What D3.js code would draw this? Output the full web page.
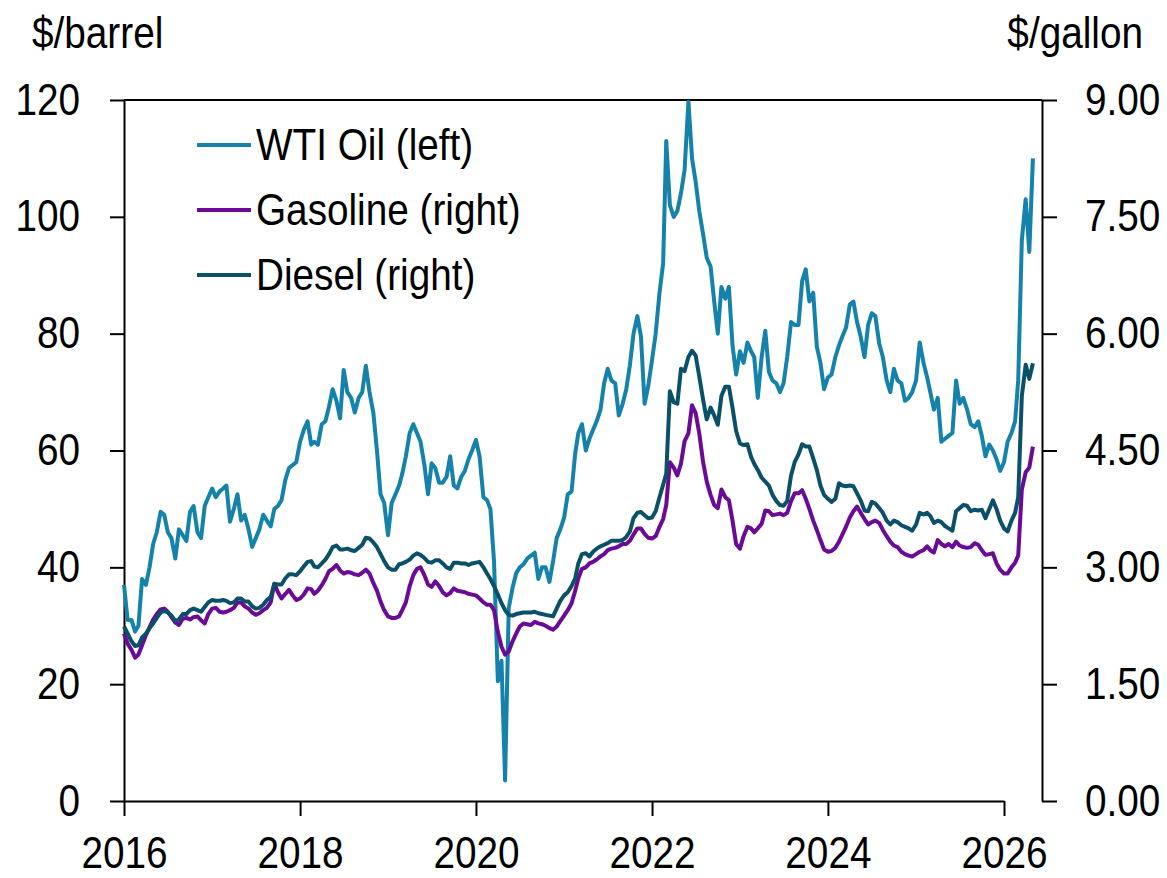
<!DOCTYPE html>
<html>
<head>
<meta charset="utf-8">
<script src="https://cdn.jsdelivr.net/npm/d3@7"></script>
<style>
  body { margin: 0; background: #fff; }
  text { font-family: "Liberation Sans", Arial, sans-serif; fill: #000; }
</style>
</head>
<body>
<div id="chart-area"></div>
<script>
// semi-monthly observations, first one 1 Jan 2016, then 16 Jan, 1 Feb, ...
const START = { YEAR: 2016, MONTH: 0 }

// WTI oil, $/barrel (left axis)
const wti = [
  37, 31, 31, 29, 30, 38, 37, 40, 44, 46, 49.5, 49, 46, 45, 41.5, 46.5, 45.5, 44.5, 49.5, 50.5, 46, 45, 50.5, 52,
  53.5, 52, 53, 53.5, 54, 47.8, 50, 52.5, 48, 49, 46.5, 43.5, 45, 46.5, 49, 48, 47, 50, 50.5, 51.5, 55, 57, 57.5, 58,
  61.5, 63.5, 65, 61, 61.5, 61, 64.5, 65, 67.5, 70.5, 68.5, 65.5, 73.8, 70, 69, 66.5, 69, 70, 74.5, 70, 66.5, 60, 52.5, 51,
  45.5, 51, 52.5, 54, 56, 59, 63, 64.5, 63, 61.5, 57.5, 52.5, 57.8, 57, 54.5, 54.5, 55.5, 59, 54, 53.5, 55.5, 56.5, 58.5, 60,
  61.8, 59, 52, 51.5, 50, 41, 20.5, 24, 3.5, 33, 36.5, 39, 40, 40.5, 41.5, 42, 42.5, 38, 40, 40, 37.5, 41, 45, 46.5,
  48.5, 52.5, 53, 59.5, 63, 64.5, 60, 62, 63.5, 65, 67, 71.5, 74, 72, 71.5, 66, 68, 70.5, 74.6, 80, 83, 79.5, 68, 71,
  75.5, 80, 87, 92, 113, 102, 100, 101, 104, 108, 119.7, 110, 106, 101, 97, 93, 91.5, 85.5, 80, 88, 86, 88, 78, 73,
  77, 75, 78.5, 77, 76, 69, 76, 80.5, 73.5, 72, 71.5, 70, 71.5, 76, 82, 81.5, 81.5, 89, 91, 85.5, 87, 77.8, 75, 70.5,
  72.5, 73, 76, 78, 79.5, 81, 85, 85.5, 82, 79.5, 76, 81.5, 83.5, 83, 78.3, 76, 72, 70, 74, 72, 71.5, 68.5, 69, 70,
  72, 78.5, 75, 72.5, 70, 67, 69, 61.5, 62, 62.5, 63, 72, 68, 69, 67, 64.5, 64, 65, 62.5, 59, 61, 60, 58.5, 56.5,
  58, 61.5, 63, 65, 72, 96, 103, 94, 110
]

// retail gasoline, $/gallon (right axis)
const gasoline = [
  2.15, 2.02, 1.94, 1.84, 1.88, 2.0, 2.13, 2.23, 2.33, 2.4, 2.46, 2.47, 2.43, 2.36, 2.29, 2.26, 2.34, 2.35, 2.33, 2.36, 2.37, 2.32, 2.28, 2.4,
  2.47, 2.48, 2.43, 2.42, 2.43, 2.45, 2.48, 2.55, 2.55, 2.5, 2.47, 2.42, 2.39, 2.41, 2.45, 2.48, 2.55, 2.79, 2.68, 2.6, 2.66, 2.71, 2.64, 2.58,
  2.6, 2.65, 2.73, 2.72, 2.66, 2.7, 2.77, 2.85, 2.95, 2.98, 3.03, 2.96, 2.92, 2.94, 2.93, 2.91, 2.9, 2.93, 2.97, 2.92, 2.8, 2.7, 2.56, 2.45,
  2.37, 2.35, 2.35, 2.37, 2.45, 2.55, 2.76, 2.9, 2.98, 3.0, 2.9, 2.78, 2.75, 2.82, 2.76, 2.68, 2.64, 2.67, 2.73, 2.7, 2.69, 2.68, 2.66, 2.65,
  2.64, 2.6, 2.55, 2.52, 2.52, 2.45, 2.17, 1.98, 1.88, 1.92, 2.05, 2.15, 2.24, 2.28, 2.27, 2.26, 2.3, 2.28, 2.27, 2.25, 2.22, 2.2, 2.24, 2.31,
  2.38, 2.45, 2.54, 2.7, 2.86, 2.98, 3.0, 3.05, 3.07, 3.1, 3.14, 3.17, 3.22, 3.24, 3.25, 3.27, 3.3, 3.3, 3.34, 3.42, 3.5, 3.5, 3.43, 3.38,
  3.37, 3.4, 3.52, 3.62, 3.8, 4.35, 4.28, 4.18, 4.33, 4.62, 4.72, 5.08, 4.98, 4.72, 4.35, 4.1, 3.93, 3.8, 3.76, 4.0, 3.9, 3.86, 3.6, 3.3,
  3.24, 3.4, 3.52, 3.5, 3.45, 3.5, 3.56, 3.73, 3.72, 3.67, 3.68, 3.69, 3.67, 3.7, 3.85, 3.95, 3.95, 3.99, 3.88, 3.75, 3.6, 3.48, 3.35, 3.23,
  3.2, 3.21, 3.25, 3.33, 3.42, 3.52, 3.64, 3.72, 3.78, 3.7, 3.62, 3.55, 3.58, 3.6, 3.57, 3.48, 3.4, 3.33, 3.28, 3.26, 3.2, 3.17, 3.15, 3.14,
  3.17, 3.2, 3.22, 3.27, 3.22, 3.19, 3.35, 3.3, 3.27, 3.3, 3.26, 3.33, 3.28, 3.26, 3.25, 3.26, 3.31, 3.29, 3.22, 3.16, 3.17, 3.18, 3.05, 2.97,
  2.92, 2.92, 3.0, 3.06, 3.15, 4.0, 4.22, 4.28, 4.55
]

// retail diesel, $/gallon (right axis)
const diesel = [
  2.24, 2.15, 2.05, 1.99, 2.0, 2.1, 2.15, 2.22, 2.28, 2.35, 2.42, 2.44, 2.42, 2.38, 2.31, 2.33, 2.4, 2.4, 2.45, 2.47, 2.45, 2.43, 2.49, 2.55,
  2.58, 2.57, 2.57, 2.58, 2.57, 2.54, 2.55, 2.6, 2.6, 2.56, 2.56, 2.5, 2.47, 2.48, 2.52, 2.58, 2.62, 2.79, 2.78, 2.78, 2.86, 2.91, 2.91, 2.9,
  2.95, 3.01, 3.07, 3.08, 3.01, 3.0, 3.05, 3.1, 3.17, 3.26, 3.28, 3.23, 3.23, 3.24, 3.22, 3.21, 3.25, 3.29, 3.38, 3.37, 3.32, 3.26, 3.17, 3.08,
  3.0, 2.97, 2.97, 3.04, 3.05, 3.07, 3.1, 3.15, 3.18, 3.16, 3.12, 3.07, 3.06, 3.09, 3.09, 3.05, 3.0, 2.98, 3.06, 3.06, 3.05, 3.05, 3.03, 3.05,
  3.06, 3.07, 3.0, 2.92, 2.85, 2.76, 2.65, 2.54, 2.45, 2.39, 2.38, 2.4, 2.41, 2.42, 2.42, 2.42, 2.43, 2.41, 2.4, 2.39, 2.38, 2.37, 2.47, 2.57,
  2.64, 2.68, 2.76, 2.86, 3.05, 3.17, 3.18, 3.14, 3.2, 3.24, 3.27, 3.29, 3.31, 3.34, 3.34, 3.34, 3.35, 3.39, 3.46, 3.63, 3.7, 3.71, 3.67, 3.63,
  3.64, 3.72, 3.9, 4.06, 4.2, 5.26, 5.12, 5.1, 5.55, 5.52, 5.7, 5.78, 5.72, 5.45, 5.15, 4.9, 5.05, 4.95, 4.83, 5.2, 5.32, 5.32, 5.05, 4.75,
  4.59, 4.57, 4.58, 4.42, 4.33, 4.25, 4.15, 4.1, 4.05, 3.93, 3.85, 3.8, 3.79, 3.85, 4.18, 4.35, 4.45, 4.58, 4.55, 4.55, 4.4, 4.25, 4.05, 3.93,
  3.88, 3.84, 3.88, 4.08, 4.05, 4.04, 4.05, 4.04, 3.95, 3.86, 3.73, 3.72, 3.84, 3.82, 3.76, 3.7, 3.6, 3.55, 3.6, 3.58, 3.54, 3.52, 3.5, 3.47,
  3.55, 3.7, 3.68, 3.7, 3.66, 3.57, 3.6, 3.58, 3.53, 3.5, 3.47, 3.72, 3.76, 3.8, 3.79, 3.72, 3.74, 3.73, 3.74, 3.63, 3.75, 3.86, 3.75, 3.6,
  3.5, 3.46, 3.6, 3.7, 3.9, 5.2, 5.6, 5.42, 5.62
]

const leftTicks = [0, 20, 40, 60, 80, 100, 120]
const rightTicks = [0, 1.5, 3, 4.5, 6, 7.5, 9]
const yearTicks = [2016, 2018, 2020, 2022, 2024, 2026]
const legendNames = ["WTI Oil (left)", "Gasoline (right)", "Diesel (right)"]
const colors = ["#1482ab", "#6a0a96", "#0b5069"]

// margens
const MARGIN = { LEFT: 124, RIGHT: 125, TOP: 100, BOTTOM: 77 }
const W = 1167, H = 878
const WIDTH = W - MARGIN.LEFT - MARGIN.RIGHT
const HEIGHT = H - MARGIN.TOP - MARGIN.BOTTOM

const svg = d3.select("#chart-area").append("svg")
  .attr("width", W)
  .attr("height", H)

const g = svg.append("g")
  .attr("transform", `translate(${MARGIN.LEFT}, ${MARGIN.TOP})`)

// observation dates: 1st and 16th of each month
const dateAt = i => new Date(START.YEAR, START.MONTH + Math.floor(i / 2), i % 2 ? 16 : 1)

// time scale: 2016 -> 2026 spans 880px, the axis runs a bit past 2026
const x = d3.scaleTime()
  .domain([new Date(2016, 0, 1), new Date(2026, 0, 1)])
  .range([0, 880])

const yL = d3.scaleLinear().domain([0, 120]).range([HEIGHT, 0])
const yR = d3.scaleLinear().domain([0, 9]).range([HEIGHT, 0])

const FS = "44px"
// the original font is a narrow one; squeeze the text around its anchor
const NARROW = 0.88
function squeeze(sel) {
  sel.each(function () {
    const t = d3.select(this)
    const ax = +t.attr("x") || 0
    t.attr("transform", `translate(${ax},0) scale(${NARROW},1) translate(${-ax},0)`)
  })
}

// eixo esquerdo
const leftAxis = g.append("g")
  .call(d3.axisLeft(yL).tickValues(leftTicks).tickSize(14).tickSizeOuter(0).tickPadding(30))
leftAxis.selectAll("text").attr("font-size", FS).call(squeeze)

// eixo direito
const rightAxis = g.append("g")
  .attr("transform", `translate(${WIDTH}, 0)`)
  .call(d3.axisRight(yR).tickValues(rightTicks).tickFormat(d3.format(".2f")).tickSize(15).tickSizeOuter(0).tickPadding(28))
rightAxis.selectAll("text").attr("font-size", FS).call(squeeze)

// eixo x
const xAxis = g.append("g")
  .attr("transform", `translate(0, ${HEIGHT})`)
  .call(d3.axisBottom(x).tickValues(yearTicks.map(y => new Date(y, 0, 1))).tickFormat(d3.timeFormat("%Y")).tickSize(15).tickSizeOuter(0).tickPadding(21))
xAxis.selectAll("text").attr("font-size", FS).call(squeeze)

// linha de cima
g.append("line")
  .attr("x1", 0).attr("x2", WIDTH)
  .attr("y1", 0).attr("y2", 0)
  .attr("stroke", "#000")

g.selectAll(".domain, .tick line").attr("stroke", "#000").attr("stroke-width", 2)
g.selectAll("line").attr("stroke-width", 2)

// linhas
const lineL = d3.line().x((d, i) => x(dateAt(i))).y(d => yL(d))
const lineR = d3.line().x((d, i) => x(dateAt(i))).y(d => yR(d))

const series = [
  { data: wti, line: lineL, color: colors[0] },
  { data: gasoline, line: lineR, color: colors[1] },
  { data: diesel, line: lineR, color: colors[2] }
]
series.forEach(s => {
  g.append("path")
    .attr("d", s.line(s.data))
    .attr("fill", "none")
    .attr("stroke", s.color)
    .attr("stroke-width", 4)
    .attr("stroke-linejoin", "round")
})

// legenda
const legend = g.append("g").attr("transform", "translate(73, 45)")
legendNames.forEach((name, i) => {
  legend.append("line")
    .attr("x1", 0).attr("x2", 54)
    .attr("y1", i * 65).attr("y2", i * 65)
    .attr("stroke", colors[i])
    .attr("stroke-width", 4)
  legend.append("text")
    .attr("x", 59)
    .attr("y", i * 65)
    .attr("dy", "0.35em")
    .attr("font-size", FS)
    .text(name)
    .call(squeeze)
})

// unidades
svg.append("text")
  .attr("x", 32).attr("y", 48)
  .attr("font-size", FS)
  .text("$/barrel")
  .call(squeeze)

svg.append("text")
  .attr("x", 1143).attr("y", 48)
  .attr("text-anchor", "end")
  .attr("font-size", FS)
  .text("$/gallon")
  .call(squeeze)
</script>
</body>
</html>
